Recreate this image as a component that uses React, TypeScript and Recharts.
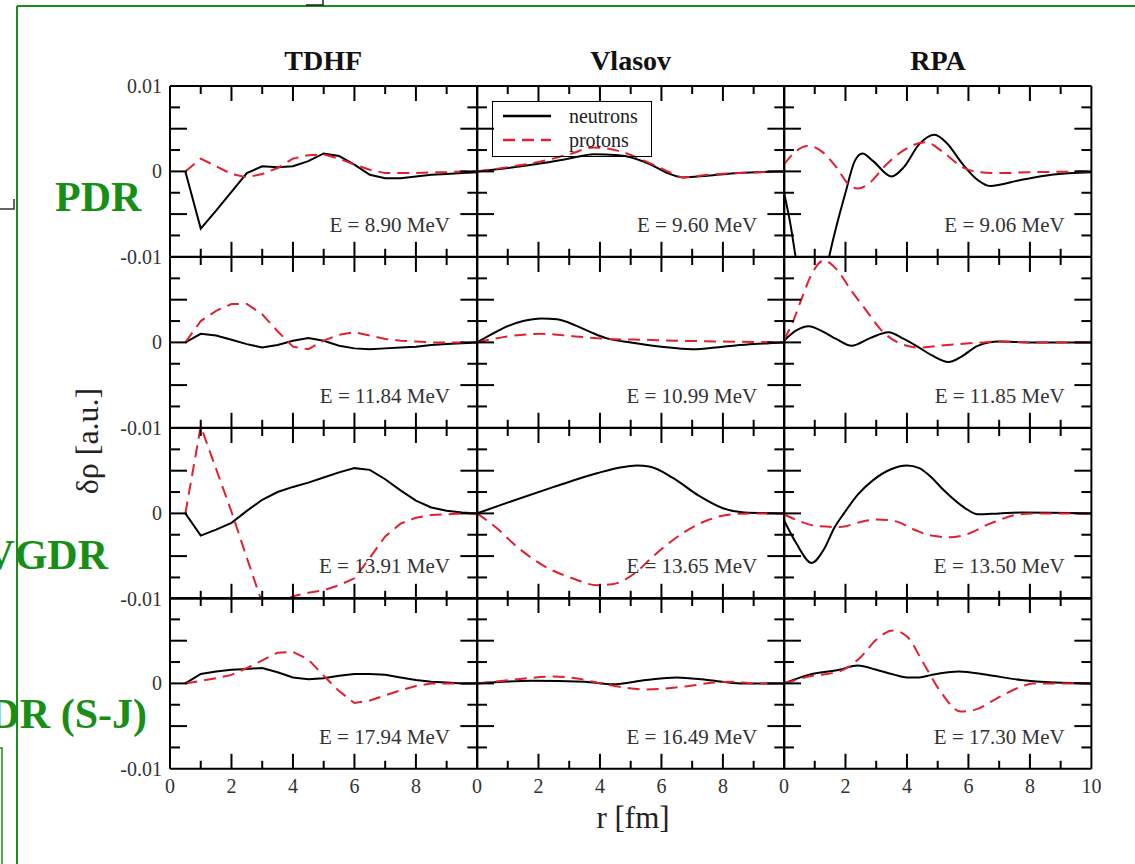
import React from 'react';
import { LineChart, Line, XAxis, YAxis, Legend } from 'recharts';

type Pt = [number, number];

// r [fm] , delta rho [a.u.]
const tdhfPdrN: Pt[] = [[0.5, 0], [1, -0.0067], [1.5, -0.0046], [2, -0.0024], [2.5, -0.0002], [3, 0.0006], [3.5, 0.0005], [4, 0.0006], [4.5, 0.0012], [5, 0.0021], [5.5, 0.0018], [6, 0.0008], [6.5, -0.0004], [7, -0.0008], [7.5, -0.0008], [8, -0.0006], [8.5, -0.0004], [9, -0.0003], [9.5, -0.0002], [10, -0.0001]];
const tdhfPdrP: Pt[] = [[0.5, 0], [1, 0.0015], [1.5, 0.0006], [2, -0.0003], [2.5, -0.0007], [3, -0.0003], [3.5, 0.0004], [4, 0.0015], [4.5, 0.0019], [5, 0.002], [5.5, 0.0015], [6, 0.0008], [6.5, 0.0002], [7, -0.0002], [7.5, -0.0002], [8, -0.0002], [8.5, -0.0001], [9, -0.0001], [9.5, 0], [10, 0]];
const tdhfR2N: Pt[] = [[0.5, 0], [1, 0.001], [1.5, 0.0008], [2, 0.0003], [2.5, -0.0002], [3, -0.0006], [3.5, -0.0003], [4, 0.0002], [4.5, 0.0005], [5, 0.0002], [5.5, -0.0004], [6, -0.0007], [6.5, -0.0008], [7, -0.0007], [7.5, -0.0006], [8, -0.0005], [8.5, -0.0003], [9, -0.0002], [9.5, -0.0001], [10, 0]];
const tdhfR2P: Pt[] = [[0.5, 0], [1, 0.0025], [1.5, 0.0037], [2, 0.0045], [2.5, 0.0045], [3, 0.0033], [3.5, 0.0013], [4, -0.0005], [4.5, -0.0008], [5, 0.0002], [5.5, 0.0009], [6, 0.0012], [6.5, 0.0008], [7, 0.0004], [7.5, 0.0002], [8, 0.0001], [8.5, 0], [10, 0]];
const tdhfR3N: Pt[] = [[0.5, 0], [1, -0.0026], [1.5, -0.0019], [2, -0.0011], [2.5, 0.0003], [3, 0.0016], [3.5, 0.0025], [4, 0.0031], [4.5, 0.0036], [5, 0.0042], [5.5, 0.0048], [6, 0.0053], [6.5, 0.0051], [7, 0.004], [7.5, 0.0027], [8, 0.0015], [8.5, 0.0007], [9, 0.0003], [9.5, 0.0001], [10, 0]];
const tdhfR3P: Pt[] = [[0.5, 0], [1, 0.0102], [1.5, 0.0052], [2, 0.0002], [2.5, -0.0052], [3, -0.0105], [3.5, -0.0106], [4, -0.0097], [4.5, -0.0093], [5, -0.009], [5.5, -0.0084], [6, -0.0076], [6.5, -0.0052], [7, -0.0027], [7.5, -0.0012], [8, -0.0005], [8.5, -0.0002], [9, -0.0001], [9.5, 0], [10, 0]];
const tdhfR4N: Pt[] = [[0.5, 0], [1, 0.0011], [1.5, 0.0014], [2, 0.0016], [2.5, 0.0017], [3, 0.0018], [3.5, 0.0013], [4, 0.0007], [4.5, 0.0005], [5, 0.0006], [5.5, 0.0009], [6, 0.0011], [6.5, 0.0011], [7, 0.001], [7.5, 0.0007], [8, 0.0004], [8.5, 0.0002], [9, 0.0001], [9.5, 0], [10, 0]];
const tdhfR4P: Pt[] = [[0.5, 0], [1, 0.0003], [1.5, 0.0006], [2, 0.001], [2.5, 0.0018], [3, 0.0027], [3.5, 0.0036], [4, 0.0037], [4.5, 0.0028], [5, 0.0009], [5.5, -0.0009], [6, -0.0023], [6.5, -0.002], [7, -0.0014], [7.5, -0.0008], [8, -0.0003], [8.5, 0], [10, 0]];

const vlasovPdrN: Pt[] = [[0, 0], [1, 0.0004], [2, 0.0009], [3, 0.0015], [3.8, 0.002], [4.6, 0.0019], [5.6, 0.0009], [6.2, -0.0002], [6.7, -0.0007], [7.5, -0.0005], [8.5, -0.0002], [10, 0]];
const vlasovPdrP: Pt[] = [[0, 0], [1, 0.0005], [2, 0.0011], [3, 0.002], [3.8, 0.0028], [4.6, 0.0024], [5.6, 0.001], [6.2, 0], [6.7, -0.0007], [7.5, -0.0004], [8.5, -0.0002], [10, 0]];
const vlasovR2N: Pt[] = [[0, 0], [0.5, 0.001], [1, 0.0019], [1.5, 0.0025], [2.1, 0.0028], [2.6, 0.0027], [3.2, 0.002], [3.7, 0.0012], [4.2, 0.0005], [5, 0], [6, -0.0005], [7, -0.0008], [8, -0.0005], [9, -0.0002], [10, 0]];
const vlasovR2P: Pt[] = [[0, 0], [1, 0.0007], [2.1, 0.001], [3.2, 0.0007], [4.3, 0.0004], [5.5, 0.0003], [6.5, 0.0002], [8, 0.0001], [10, 0]];
const vlasovR3N: Pt[] = [[0, 0], [1.1, 0.0014], [2.5, 0.0031], [3.9, 0.0047], [4.7, 0.0054], [5.2, 0.0056], [5.6, 0.0055], [6.4, 0.0041], [7.2, 0.0021], [8, 0.0006], [8.7, 0.0001], [10, 0]];
const vlasovR3P: Pt[] = [[0, 0], [0.6, -0.0016], [1.3, -0.0039], [2.2, -0.0062], [3.1, -0.0076], [3.9, -0.0084], [4.4, -0.0083], [5.1, -0.0071], [5.8, -0.0048], [6.7, -0.0023], [7.5, -0.0008], [8.3, -0.0001], [9, 0], [10, 0]];
const vlasovR4N: Pt[] = [[0, 0], [1.8, 0.0003], [3.5, 0.0002], [4.4, -0.0001], [5.5, 0.0004], [6.5, 0.0007], [7.5, 0.0004], [8.6, 0], [10, 0]];
const vlasovR4P: Pt[] = [[0, 0], [1.1, 0.0004], [2.5, 0.0008], [3.2, 0.0006], [4.3, -0.0002], [5.5, -0.0007], [6.9, -0.0003], [7.7, 0.0001], [8.3, 0.0002], [9, 0], [10, 0]];

const rpaPdrN: Pt[] = [[0, -0.0025], [0.2, -0.006], [0.45, -0.0115], [0.9, -0.016], [1.3, -0.013], [1.5, -0.0095], [2, -0.0025], [2.3, 0.0012], [2.55, 0.0021], [2.9, 0.0012], [3.5, -0.0006], [3.9, 0.0005], [4.4, 0.0032], [4.9, 0.0043], [5.3, 0.0033], [5.8, 0.0009], [6.3, -0.001], [6.7, -0.0017], [7.7, -0.001], [8.7, -0.0004], [10, -0.0001]];
const rpaPdrP: Pt[] = [[0, 0.0008], [0.4, 0.0024], [0.8, 0.003], [1.2, 0.0024], [1.7, 0.0005], [2.1, -0.0015], [2.4, -0.002], [2.8, -0.0013], [3.3, 0.0007], [3.9, 0.0025], [4.6, 0.0034], [5.2, 0.0022], [5.8, 0.0005], [6.4, -0.0001], [7, -0.0002], [8, -0.0001], [10, 0]];
const rpaR2N: Pt[] = [[0, 0.0002], [0.4, 0.0014], [0.8, 0.0019], [1.3, 0.0012], [1.7, 0.0004], [2.2, -0.0004], [2.8, 0.0005], [3.4, 0.0012], [3.9, 0.0004], [4.3, -0.0004], [4.8, -0.0015], [5.35, -0.0023], [5.8, -0.0016], [6.3, -0.0004], [7, 0.0001], [8, 0], [10, 0]];
const rpaR2P: Pt[] = [[0, 0.0003], [0.3, 0.0025], [0.55, 0.0049], [0.9, 0.008], [1.3, 0.0096], [1.7, 0.0086], [2.2, 0.006], [2.6, 0.0041], [3.2, 0.0013], [3.7, 0], [4.4, -0.0006], [5.3, -0.0003], [6.5, 0], [7, 0.0001], [8, 0], [10, 0]];
const rpaR3N: Pt[] = [[0, -0.0008], [0.4, -0.0035], [0.9, -0.0058], [1.3, -0.0042], [1.65, -0.0016], [1.95, 0], [2.4, 0.0022], [2.9, 0.0039], [3.5, 0.0052], [4, 0.0056], [4.4, 0.0053], [4.8, 0.0042], [5.2, 0.0027], [5.9, 0.0006], [6.3, -0.0001], [7, 0], [7.7, 0.0001], [10, 0]];
const rpaR3P: Pt[] = [[0, -0.0001], [0.5, -0.0009], [1.1, -0.0015], [1.8, -0.0016], [2.5, -0.001], [3, -0.0007], [3.6, -0.0009], [4.3, -0.002], [4.8, -0.0026], [5.4, -0.0028], [5.9, -0.0025], [6.7, -0.0012], [7.7, -0.0001], [8.5, 0], [10, 0]];
const rpaR4N: Pt[] = [[0, 0], [0.8, 0.001], [1.8, 0.0016], [2.4, 0.0021], [3, 0.0016], [3.6, 0.001], [4, 0.0007], [4.4, 0.0007], [4.8, 0.001], [5.7, 0.0014], [6.6, 0.001], [7.7, 0.0004], [8.8, 0.0001], [10, 0]];
const rpaR4P: Pt[] = [[0, 0], [0.8, 0.0008], [1.8, 0.0014], [2.5, 0.0031], [3, 0.0051], [3.55, 0.0062], [4, 0.0055], [4.5, 0.0026], [5.1, -0.001], [5.75, -0.0033], [6.2, -0.0031], [6.9, -0.0018], [7.7, -0.0004], [8.1, 0], [10, 0]];

const methods = ['TDHF', 'Vlasov', 'RPA'];
const energies = [
  ['E = 8.90 MeV', 'E = 9.60 MeV', 'E = 9.06 MeV'],
  ['E = 11.84 MeV', 'E = 10.99 MeV', 'E = 11.85 MeV'],
  ['E = 13.91 MeV', 'E = 13.65 MeV', 'E = 13.50 MeV'],
  ['E = 17.94 MeV', 'E = 16.49 MeV', 'E = 17.30 MeV'],
];
const neutrons = [
  [tdhfPdrN, vlasovPdrN, rpaPdrN],
  [tdhfR2N, vlasovR2N, rpaR2N],
  [tdhfR3N, vlasovR3N, rpaR3N],
  [tdhfR4N, vlasovR4N, rpaR4N],
];
const protons = [
  [tdhfPdrP, vlasovPdrP, rpaPdrP],
  [tdhfR2P, vlasovR2P, rpaR2P],
  [tdhfR3P, vlasovR3P, rpaR3P],
  [tdhfR4P, vlasovR4P, rpaR4P],
];

const xMajor = [2, 4, 6, 8];
const xMinor = [1, 3, 5, 7, 9];
const xLabels = [0, 2, 4, 6, 8];
const xLabelsLast = [0, 2, 4, 6, 8, 10];
const yMajor = [-0.005, 0, 0.005];
const yMinor = [-0.0075, -0.0025, 0.0025, 0.0075];
const yLabelsTop = [0.01, 0, -0.01];
const yLabels = [0, -0.01];

const PX = 169.5;
const PY = 86;
const PW = 307.4;
const PH = 170.8;
const M = 14;
const YLAB = 48;
const XLAB = 34;
const THIN = 0.01; // mirrored axes take (almost) no room, so they all sit on the frame
const SERIF = "'Liberation Serif', 'DejaVu Serif', serif";
const RED = '#e0202e';
const GREEN = '#178f17';

const frame = { stroke: '#000', strokeWidth: 2 };
const tickStyle = { stroke: '#000', strokeWidth: 2 };
const labelTick = { fontSize: 20, fill: '#333', fontFamily: SERIF };
const noLabel = () => <g />;

const toPts = (a: Pt[]) => a.map(([r, v]) => ({ r, v }));
const fmtY = (v: number) => (v === 0 ? '0' : String(v));

function LegendBox({ payload }: any) {
  return (
    <div
      style={{
        border: '1.5px solid #000',
        width: 160,
        height: 56,
        boxSizing: 'border-box',
        padding: '2px 0 0 8px',
        fontFamily: SERIF,
        fontSize: 20,
        lineHeight: '24px',
        color: '#222',
      }}
    >
      {(payload ?? []).map((e: any) => (
        <div key={e.value} style={{ display: 'flex', alignItems: 'center', height: 24 }}>
          <svg width={52} height={12}>
            <line x1={2} y1={6} x2={50} y2={6} stroke={e.color} strokeWidth={2.5} strokeDasharray={e.payload?.strokeDasharray} />
          </svg>
          <span style={{ marginLeft: 16 }}>{e.value}</span>
        </div>
      ))}
    </div>
  );
}

function Panel({ row, col }: { row: number; col: number }) {
  const extraL = col === 0 ? YLAB : 0;
  const extraB = row === 3 ? XLAB : 0;
  const width = PW + 2 * M + extraL;
  const height = PH + 2 * M + extraB;
  const left = PX + col * PW - M - extraL;
  const top = PY + row * PH - M;
  const curve = col === 0 ? 'linear' : 'monotone';
  return (
    <div style={{ position: 'absolute', left, top, width, height }}>
      <LineChart width={width} height={height} margin={{ top: M, right: M, bottom: M, left: M }}>
        <XAxis xAxisId="b" type="number" dataKey="r" domain={[0, 10]} allowDataOverflow orientation="bottom" mirror height={THIN}
          ticks={xMajor} interval={0} tick={noLabel} tickSize={15} axisLine={frame} tickLine={tickStyle} />
        <XAxis xAxisId="bm" type="number" dataKey="r" domain={[0, 10]} allowDataOverflow orientation="bottom" mirror height={THIN}
          ticks={xMinor} interval={0} tick={noLabel} tickSize={8} axisLine={false} tickLine={tickStyle} />
        <XAxis xAxisId="t" type="number" dataKey="r" domain={[0, 10]} allowDataOverflow orientation="top" mirror height={THIN}
          ticks={xMajor} interval={0} tick={noLabel} tickSize={15} axisLine={frame} tickLine={tickStyle} />
        <XAxis xAxisId="tm" type="number" dataKey="r" domain={[0, 10]} allowDataOverflow orientation="top" mirror height={THIN}
          ticks={xMinor} interval={0} tick={noLabel} tickSize={8} axisLine={false} tickLine={tickStyle} />
        {row === 3 && (
          <XAxis xAxisId="lab" type="number" dataKey="r" domain={[0, 10]} allowDataOverflow orientation="bottom" height={XLAB}
            ticks={col === 2 ? xLabelsLast : xLabels} interval={0} tick={labelTick} tickSize={0} tickMargin={10}
            axisLine={false} tickLine={false} />
        )}
        <YAxis yAxisId="l" type="number" domain={[-0.01, 0.01]} allowDataOverflow orientation="left" mirror width={THIN}
          ticks={yMajor} interval={0} tick={noLabel} tickSize={17} axisLine={frame} tickLine={tickStyle} />
        <YAxis yAxisId="lm" type="number" domain={[-0.01, 0.01]} allowDataOverflow orientation="left" mirror width={THIN}
          ticks={yMinor} interval={0} tick={noLabel} tickSize={10} axisLine={false} tickLine={tickStyle} />
        <YAxis yAxisId="r" type="number" domain={[-0.01, 0.01]} allowDataOverflow orientation="right" mirror width={THIN}
          ticks={yMajor} interval={0} tick={noLabel} tickSize={17} axisLine={frame} tickLine={tickStyle} />
        <YAxis yAxisId="rm" type="number" domain={[-0.01, 0.01]} allowDataOverflow orientation="right" mirror width={THIN}
          ticks={yMinor} interval={0} tick={noLabel} tickSize={10} axisLine={false} tickLine={tickStyle} />
        {col === 0 && (
          <YAxis yAxisId="lab" type="number" domain={[-0.01, 0.01]} allowDataOverflow orientation="left" width={YLAB}
            ticks={row === 0 ? yLabelsTop : yLabels} interval={0} tick={labelTick} tickFormatter={fmtY}
            tickSize={0} tickMargin={8} axisLine={false} tickLine={false} />
        )}
        <Line xAxisId="b" yAxisId="l" data={toPts(neutrons[row][col])} dataKey="v" name="neutrons" type={curve}
          stroke="#000" strokeWidth={2} dot={false} activeDot={false} isAnimationActive={false} />
        <Line xAxisId="b" yAxisId="l" data={toPts(protons[row][col])} dataKey="v" name="protons" type={curve}
          stroke={RED} strokeWidth={2} strokeDasharray="12 7" dot={false} activeDot={false} isAnimationActive={false} />
        {row === 0 && col === 1 && (
          <Legend layout="vertical" align="center" verticalAlign="middle" content={LegendBox}
            wrapperStyle={{ left: 29, top: 29, width: 160, height: 56 }} />
        )}
      </LineChart>
    </div>
  );
}

export default function App() {
  const rows = [0, 1, 2, 3];
  const cols = [0, 1, 2];
  return (
    <div style={{ position: 'absolute', left: 0, top: 0, width: 1135, height: 864, background: '#fff', overflow: 'hidden' }}>
      {rows.map((r) => cols.map((c) => <Panel key={`${r}-${c}`} row={r} col={c} />))}
      <svg width={1135} height={864} style={{ position: 'absolute', left: 0, top: 0, pointerEvents: 'none' }}>
        {/* leftover slide frame */}
        <line x1={17} y1={6} x2={1135} y2={6} stroke={GREEN} strokeWidth={2} />
        <line x1={17} y1={6} x2={17} y2={864} stroke={GREEN} strokeWidth={2} />
        <polyline points="0,748 2,748 2,864" fill="none" stroke={GREEN} strokeWidth={1.5} />
        <polyline points="306,5 323,5 323,0" fill="none" stroke="#222" strokeWidth={1.5} />
        <polyline points="0,209 14,209 14,199" fill="none" stroke="#333" strokeWidth={1.5} />

        {methods.map((m, i) => (
          <text key={m} x={PX + (i + 0.5) * PW} y={70} textAnchor="middle" fontFamily={SERIF} fontWeight="bold" fontSize={28} fill="#111">
            {m}
          </text>
        ))}
        {energies.map((rowE, r) =>
          rowE.map((e, c) => (
            <text key={e} x={PX + (c + 1) * PW - 27} y={PY + (r + 1) * PH - 25} textAnchor="end" fontFamily={SERIF} fontSize={21} fill="#333">
              {e}
            </text>
          )),
        )}
        <text x={87} y={441} transform="rotate(-90 87 441)" textAnchor="middle" dominantBaseline="central" fontFamily={SERIF} fontSize={32} fill="#222">
          δρ [a.u.]
        </text>
        <text x={633} y={828} textAnchor="middle" fontFamily={SERIF} fontSize={31} fill="#222">
          r [fm]
        </text>

        <text x={55} y={211} fontFamily={SERIF} fontWeight="bold" fontSize={42} fill={GREEN}>PDR</text>
        <text x={108} y={569} textAnchor="end" fontFamily={SERIF} fontWeight="bold" fontSize={42} fill={GREEN}>IVGDR</text>
        <text x={147} y={728} textAnchor="end" fontFamily={SERIF} fontWeight="bold" fontSize={42} fill={GREEN}>IVGDR (S-J)</text>
      </svg>
    </div>
  );
}
